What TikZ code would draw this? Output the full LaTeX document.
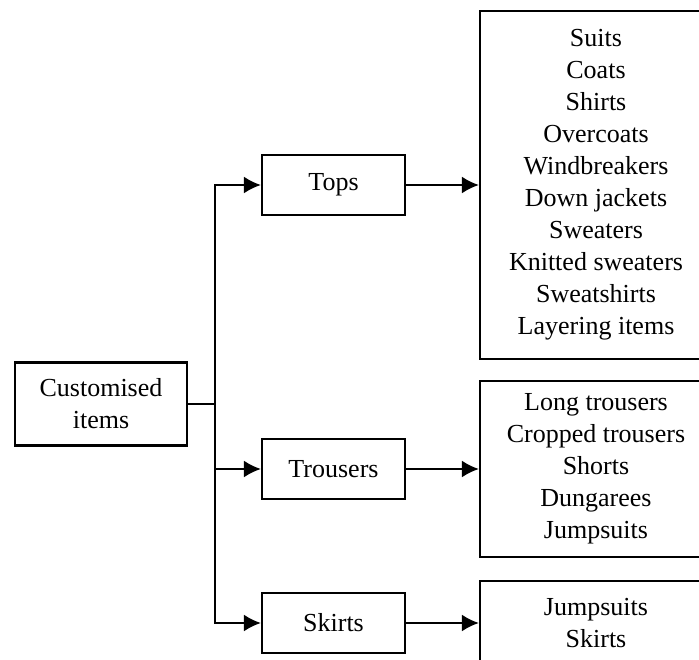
\documentclass[tikz,border=0pt]{standalone}
\usepackage{fontspec}
\setmainfont{Liberation Serif}
\usetikzlibrary{arrows.meta,positioning}

\begin{document}
\begin{tikzpicture}[
  x=1pt, y=-1pt,
  font=\fontsize{26}{32}\selectfont,
  rootbox/.style={draw, line width=2.2pt, minimum width=172pt, minimum height=83pt, align=center},
  catbox/.style={draw, line width=2.2pt, minimum width=143pt, minimum height=60pt},
  listbox/.style={draw, line width=2.2pt, minimum width=232pt, align=center},
  arr/.style={-{Latex[length=17pt,width=17pt]}, line width=2.2pt},
]
\useasboundingbox (0,0) rectangle (699,660);
\node[rootbox] (root) at (101,404) {Customised\\items};
\node[catbox] (tops) at (333.5,185) {Tops};
\node[catbox] (trousers) at (333.5,469) {Trousers};
\node[catbox] (skirts) at (333.5,623) {Skirts};
\node[listbox, minimum height=348pt] (toplist) at (596,185) {Suits\\Coats\\Shirts\\Overcoats\\Windbreakers\\Down jackets\\Sweaters\\Knitted sweaters\\Sweatshirts\\Layering items};
\node[listbox, minimum height=176pt] (trouserlist) at (596,469) {Long trousers\\Cropped trousers\\Shorts\\Dungarees\\Jumpsuits};
\node[listbox, minimum height=84pt] (skirtlist) at (596,623) {Jumpsuits\\Skirts};
\coordinate (fork) at (215,404);
\draw[line width=2.2pt] (root) -- (fork);
\draw[arr] (fork) |- (tops);
\draw[arr] (fork) |- (trousers);
\draw[arr] (fork) |- (skirts);
\draw[arr] (tops) -- (toplist);
\draw[arr] (trousers) -- (trouserlist);
\draw[arr] (skirts) -- (skirtlist);
\end{tikzpicture}
\end{document}
